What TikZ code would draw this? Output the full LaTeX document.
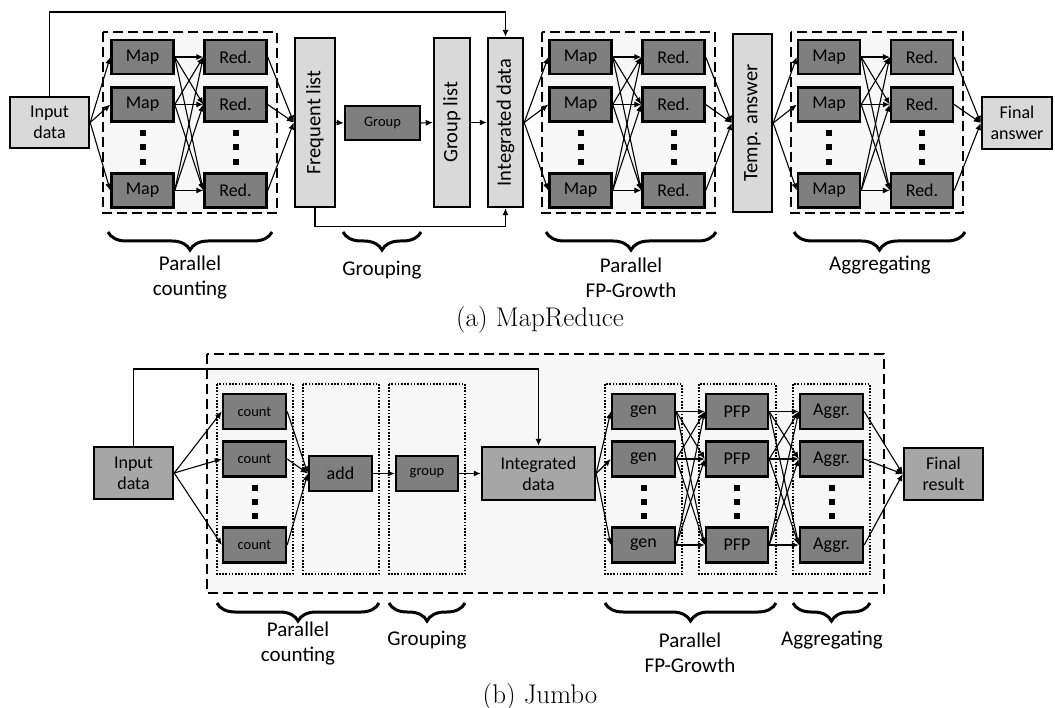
\documentclass[tikz,border=0pt]{standalone}
\usepackage{fontspec}
\newfontfamily\calib{Carlito}
\usetikzlibrary{arrows.meta,decorations.pathreplacing,calc}
\definecolor{dkc}{HTML}{7F7F7F}
\definecolor{ltc}{HTML}{D9D9D9}
\definecolor{mdc}{HTML}{A6A6A6}
\definecolor{bgc}{HTML}{F7F7F7}
\begin{document}
\begin{tikzpicture}[x=1pt,y=-1pt,
  bx/.style={draw=black,line width=2.4pt,inner sep=0pt,align=center,font=\calib\fontsize{18}{21}\selectfont},
  dk/.style={bx,fill=dkc,minimum width=62,minimum height=34},
  smf/.style={font=\calib\fontsize{14.5}{16}\selectfont},
  lt/.style={bx,fill=ltc},
  md/.style={bx,fill=mdc},
  vt/.style={rotate=90,font=\calib\fontsize{20.5}{22}\selectfont},
  arr/.style={-{Latex[length=7pt,width=6pt]},line width=1.1pt},
  dsh/.style={draw=black,fill=bgc,line width=2.4pt,dash pattern=on 10pt off 5pt},
  dtt/.style={draw=black,line width=1.6pt,dash pattern=on 1.6pt off 1.6pt},
  brc/.style={decorate,decoration={brace,amplitude=18pt},line width=3pt},
  lab/.style={align=center,font=\calib\fontsize{21}{25}\selectfont},
  captxt/.style={font=\fontsize{27}{31}\selectfont}
]
\useasboundingbox (0,0) rectangle (1055,708);

% ---------------- (a) MapReduce ----------------
\draw[dsh] (103,32) rectangle (277,213);
\draw[dsh] (542,32) rectangle (715,213);
\draw[dsh] (791,32) rectangle (963,213);

\node[lt,minimum width=79,minimum height=51] (in1) at (49.5,122.5) {Input\\data};

\foreach \n/\y in {a/57,b/104.5,c/190.5}{
  \node[dk] (m1\n) at (142.5,\y) {Map};
  \node[dk] (r1\n) at (235.5,\y) {Red.};
  \node[dk] (m2\n) at (580.5,\y) {Map};
  \node[dk] (r2\n) at (673.5,\y) {Red.};
  \node[dk] (m3\n) at (829,\y) {Map};
  \node[dk] (r3\n) at (922,\y) {Red.};
}
\foreach \x in {142.5,235.5,580.5,673.5,829,922}{
  \foreach \y in {133,147,162}{
    \fill ($(\x,\y)+(-3,-3)$) rectangle +(6,6);
  }
}

\node[lt,minimum width=40,minimum height=169,label={[vt]center:Frequent list}] (fl) at (315,122.5) {};
\node[dk,smf,minimum width=75] (grp) at (382.5,123) {Group};
\node[lt,minimum width=36,minimum height=169,label={[vt]center:Group list}] (gl) at (452,122.5) {};
\node[lt,minimum width=35,minimum height=169,label={[vt]center:Integrated data}] (id) at (505.5,122.5) {};
\node[lt,minimum width=39,minimum height=178,label={[vt]center:Temp. answer}] (ta) at (752.5,123) {};
\node[lt,minimum width=70,minimum height=52] (fa) at (1017,123) {Final\\answer};

\coordinate (t1) at (505.5,12);
\draw[arr] (in1.north) |- (t1) -- (id.north);
\draw[arr] (fl.south) -- ++(0,18) -| (id.south);

\foreach \i in {a,b,c}{
  \draw[arr] (in1.east) -- (m1\i.west);
  \draw[arr] (r1\i.east) -- (fl.west);
  \draw[arr] (id.east) -- (m2\i.west);
  \draw[arr] (r2\i.east) -- (ta.west);
  \draw[arr] (ta.east) -- (m3\i.west);
  \draw[arr] (r3\i.east) -- (fa.west);
  \foreach \j in {a,b,c}{
    \draw[arr] (m1\i.east) -- (r1\j.west);
    \draw[arr] (m2\i.east) -- (r2\j.west);
    \draw[arr] (m3\i.east) -- (r3\j.west);
  }
}
\draw[arr] (fl.east) -- (grp.west);
\draw[arr] (grp.east) -- (gl.west);
\draw[arr] (gl.east) -- (id.west);

\draw[brc] (272,232) -- (108,232);
\draw[brc] (421,232) -- (343,232);
\draw[brc] (716,232) -- (546,232);
\draw[brc] (965,232) -- (794,232);
\node[lab] (l1) at (190,277.5) {Parallel\\counting};
\node[lab] (l2) at (382,270) {Grouping};
\node[lab] (l3) at (631,277.5) {Parallel\\FP-Growth};
\node[lab] (l4) at (880,265) {Aggregating};
\node[captxt] (ca) at (540,320) {(a) MapReduce};

% ---------------- (b) Jumbo ----------------
\draw[dsh] (207,354) rectangle (884,593);
\draw[dtt] (217,384) rectangle (293,574);
\draw[dtt] (303,384) rectangle (379,574);
\draw[dtt] (389,384) rectangle (465,574);
\draw[dtt] (605,384) rectangle (682,574);
\draw[dtt] (699,384) rectangle (776,574);
\draw[dtt] (793,384) rectangle (870,574);

\node[md,minimum width=79,minimum height=52] (in2) at (133.5,473) {Input\\data};
\foreach \n/\y in {a/411.5,b/459,c/545}{
  \node[dk,smf,minimum width=63,minimum height=35] (c\n) at (254.5,\y) {count};
  \node[dk,minimum width=63,minimum height=35] (g\n) at (643.5,\y) {gen};
  \node[dk,minimum width=62,minimum height=35] (p\n) at (737,\y) {PFP};
  \node[dk,minimum width=63,minimum height=35] (ag\n) at (831.5,\y) {Aggr.};
}
\foreach \x in {254.5,643.5,737,831.5}{
  \foreach \y in {488,502,516}{
    \fill ($(\x,\y)+(-3,-3)$) rectangle +(6,6);
  }
}
\node[dk,minimum width=63,minimum height=35] (add) at (340.5,473.5) {add};
\node[dk,smf,minimum width=62,minimum height=35] (grp2) at (427,473.5) {group};
\node[md,minimum width=113,minimum height=53] (id2) at (538.5,473.5) {Integrated\\data};
\node[md,minimum width=79,minimum height=52] (fr) at (943.5,474) {Final\\result};

\coordinate (t2) at (538.5,369);
\draw[arr] (in2.north) |- (t2) -- (id2.north);

\foreach \i in {a,b,c}{
  \draw[arr] (in2.east) -- (c\i.west);
  \draw[arr] (c\i.east) -- (add.west);
  \draw[arr] (id2.east) -- (g\i.west);
  \draw[arr] (ag\i.east) -- (fr.west);
  \foreach \j in {a,b,c}{
    \draw[arr] (g\i.east) -- (p\j.west);
    \draw[arr] (p\i.east) -- (ag\j.west);
  }
}
\draw[arr] (add.east) -- (grp2.west);
\draw[arr] (grp2.east) -- (id2.west);

\draw[brc] (379,603) -- (217,603);
\draw[brc] (465,603) -- (389,603);
\draw[brc] (776,603) -- (605,603);
\draw[brc] (870,603) -- (793,603);
\node[lab] (l5) at (298,644) {Parallel\\counting};
\node[lab] (l6) at (427,640) {Grouping};
\node[lab] (l7) at (690,652.5) {Parallel\\FP-Growth};
\node[lab] (l8) at (832,640) {Aggregating};
\node[captxt] (cb) at (540,697) {(b) Jumbo};
\end{tikzpicture}
\end{document}
